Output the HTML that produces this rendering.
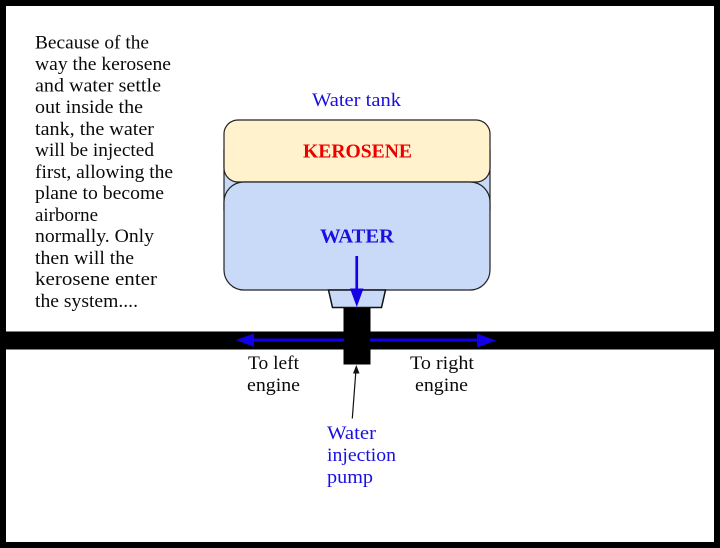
<!DOCTYPE html>
<html>
<head>
<meta charset="utf-8">
<style>
html,body{margin:0;padding:0;background:#fff;width:720px;height:548px;overflow:hidden}
svg{display:block}
text{font-family:"Liberation Serif",serif;font-size:19px;fill:#0a0a0a}
.b{fill:#1a0fe0}
.h{font-weight:bold;font-size:20px}
</style>
</head>
<body>
<svg width="720" height="548" viewBox="0 0 720 548" xmlns="http://www.w3.org/2000/svg">
<rect width="720" height="548" fill="#000"/>
<rect x="6" y="6" width="708" height="536" fill="#fff"/>

<text x="35" y="48.500" textLength="114" lengthAdjust="spacingAndGlyphs">Because of the</text>
<text x="35" y="70" textLength="136" lengthAdjust="spacingAndGlyphs">way the kerosene</text>
<text x="35" y="91.500" textLength="126" lengthAdjust="spacingAndGlyphs">and water settle</text>
<text x="35" y="113" textLength="108" lengthAdjust="spacingAndGlyphs">out inside the</text>
<text x="35" y="135" textLength="119" lengthAdjust="spacingAndGlyphs">tank, the water</text>
<text x="35" y="156" textLength="119" lengthAdjust="spacingAndGlyphs">will be injected</text>
<text x="35" y="178" textLength="138" lengthAdjust="spacingAndGlyphs">first, allowing the</text>
<text x="35" y="199" textLength="129" lengthAdjust="spacingAndGlyphs">plane to become</text>
<text x="35" y="221" textLength="63" lengthAdjust="spacingAndGlyphs">airborne</text>
<text x="35" y="242" textLength="119" lengthAdjust="spacingAndGlyphs">normally. Only</text>
<text x="35" y="264" textLength="99" lengthAdjust="spacingAndGlyphs">then will the</text>
<text x="35" y="285" textLength="122" lengthAdjust="spacingAndGlyphs">kerosene enter</text>
<text x="35" y="307" textLength="103" lengthAdjust="spacingAndGlyphs">the system....</text>

<text class="b" x="312" y="106" textLength="89" lengthAdjust="spacingAndGlyphs">Water tank</text>

<rect x="224" y="150" width="266" height="60" fill="#c9daf8" stroke="#222" stroke-width="1.2"/>
<rect x="224" y="120" width="266" height="62" rx="14" ry="14" fill="#fff2cc" stroke="#222" stroke-width="1.2"/>
<rect x="224" y="182" width="266" height="108" rx="20" ry="20" fill="#c9daf8" stroke="#222" stroke-width="1.2"/>

<text class="h" x="303" y="157.500" textLength="109" lengthAdjust="spacingAndGlyphs" style="fill:#ee0000">KEROSENE</text>
<text class="h" x="320" y="242.500" textLength="74" lengthAdjust="spacingAndGlyphs" style="fill:#1a0fe0">WATER</text>

<polygon points="328.500,290 385.500,290 381.500,307.500 332.500,307.500" fill="#c9daf8" stroke="#111" stroke-width="1.500"/>

<rect x="0" y="331.500" width="720" height="18" fill="#000"/>
<rect x="343.500" y="308" width="27" height="56.500" fill="#000"/>

<rect x="355.400" y="256" width="2.700" height="36" fill="#1400e6"/>
<polygon points="350,288.500 363.500,288.500 356.800,307" fill="#1400e6"/>

<rect x="250" y="338.500" width="94" height="3" fill="#1400e6"/>
<polygon points="236,340 254,333.500 254,347" fill="#1400e6"/>
<rect x="370" y="338.500" width="110" height="3" fill="#1400e6"/>
<polygon points="496,340.500 477,333.500 477,347.500" fill="#1400e6"/>

<line x1="352.300" y1="418.500" x2="355.800" y2="372" stroke="#111" stroke-width="1.200"/>
<polygon points="356.300,365 353,373.500 359.500,373.500" fill="#111"/>

<text x="248" y="369" textLength="51" lengthAdjust="spacingAndGlyphs">To left</text>
<text x="247" y="391" textLength="53" lengthAdjust="spacingAndGlyphs">engine</text>
<text x="410" y="369" textLength="64" lengthAdjust="spacingAndGlyphs">To right</text>
<text x="415" y="391" textLength="53" lengthAdjust="spacingAndGlyphs">engine</text>

<text class="b" x="327" y="439" textLength="49" lengthAdjust="spacingAndGlyphs">Water</text>
<text class="b" x="327" y="461" textLength="69" lengthAdjust="spacingAndGlyphs">injection</text>
<text class="b" x="327" y="483" textLength="46" lengthAdjust="spacingAndGlyphs">pump</text>
</svg>
</body>
</html>
